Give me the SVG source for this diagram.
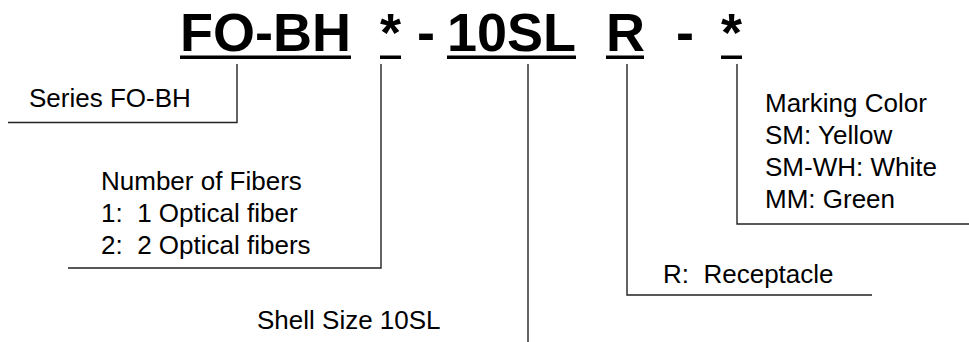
<svg xmlns="http://www.w3.org/2000/svg" width="969" height="342" viewBox="0 0 969 342">
<style>
.t{font-family:"Liberation Sans",Arial,sans-serif;font-weight:bold;font-size:54px;fill:#000}
.l{font-family:"Liberation Sans",Arial,sans-serif;font-size:26px;fill:#000}
.c{fill:none;stroke:#222;stroke-width:1.4}
.u{fill:#000}
</style>
<rect width="969" height="342" fill="#fff"/>
<g id="title">
<text class="t" x="180" y="51">FO-BH</text>
<text class="t" x="380" y="51">*</text>
<text class="t" x="417" y="51">-</text>
<text class="t" x="447" y="51">10SL</text>
<text class="t" x="606" y="51">R</text>
<text class="t" x="676" y="51">-</text>
<text class="t" x="721" y="51">*</text>
<rect class="u" x="180" y="55.5" width="171" height="3.5"/>
<rect class="u" x="380" y="55.5" width="21" height="3.5"/>
<rect class="u" x="447" y="55.5" width="129" height="3.5"/>
<rect class="u" x="606" y="55.5" width="38" height="3.5"/>
<rect class="u" x="721" y="55.5" width="21" height="3.5"/>
</g>
<g id="series">
<text class="l" x="29" y="107">Series FO-BH</text>
</g>
<g id="fibers">
<text class="l" x="101" y="190">Number of Fibers</text>
<text class="l" x="101" y="222" xml:space="preserve">1:  1 Optical fiber</text>
<text class="l" x="101" y="254" xml:space="preserve">2:  2 Optical fibers</text>
</g>
<g id="shell">
<text class="l" x="257" y="329">Shell Size 10SL</text>
</g>
<g id="receptacle">
<text class="l" x="663" y="283" xml:space="preserve">R:  Receptacle</text>
</g>
<g id="marking">
<text class="l" x="765" y="112">Marking Color</text>
<text class="l" x="765" y="144">SM: Yellow</text>
<text class="l" x="765" y="176">SM-WH: White</text>
<text class="l" x="765" y="208">MM: Green</text>
</g>
<g id="connectors">
<polyline class="c" points="237,64 237,122.5 8,122.5"/>
<polyline class="c" points="381,64 381,268 68,268"/>
<polyline class="c" points="528,64 528,342"/>
<polyline class="c" points="627,64 627,295 872,295"/>
<polyline class="c" points="737,64 737,224 969,224"/>
</g>
</svg>
